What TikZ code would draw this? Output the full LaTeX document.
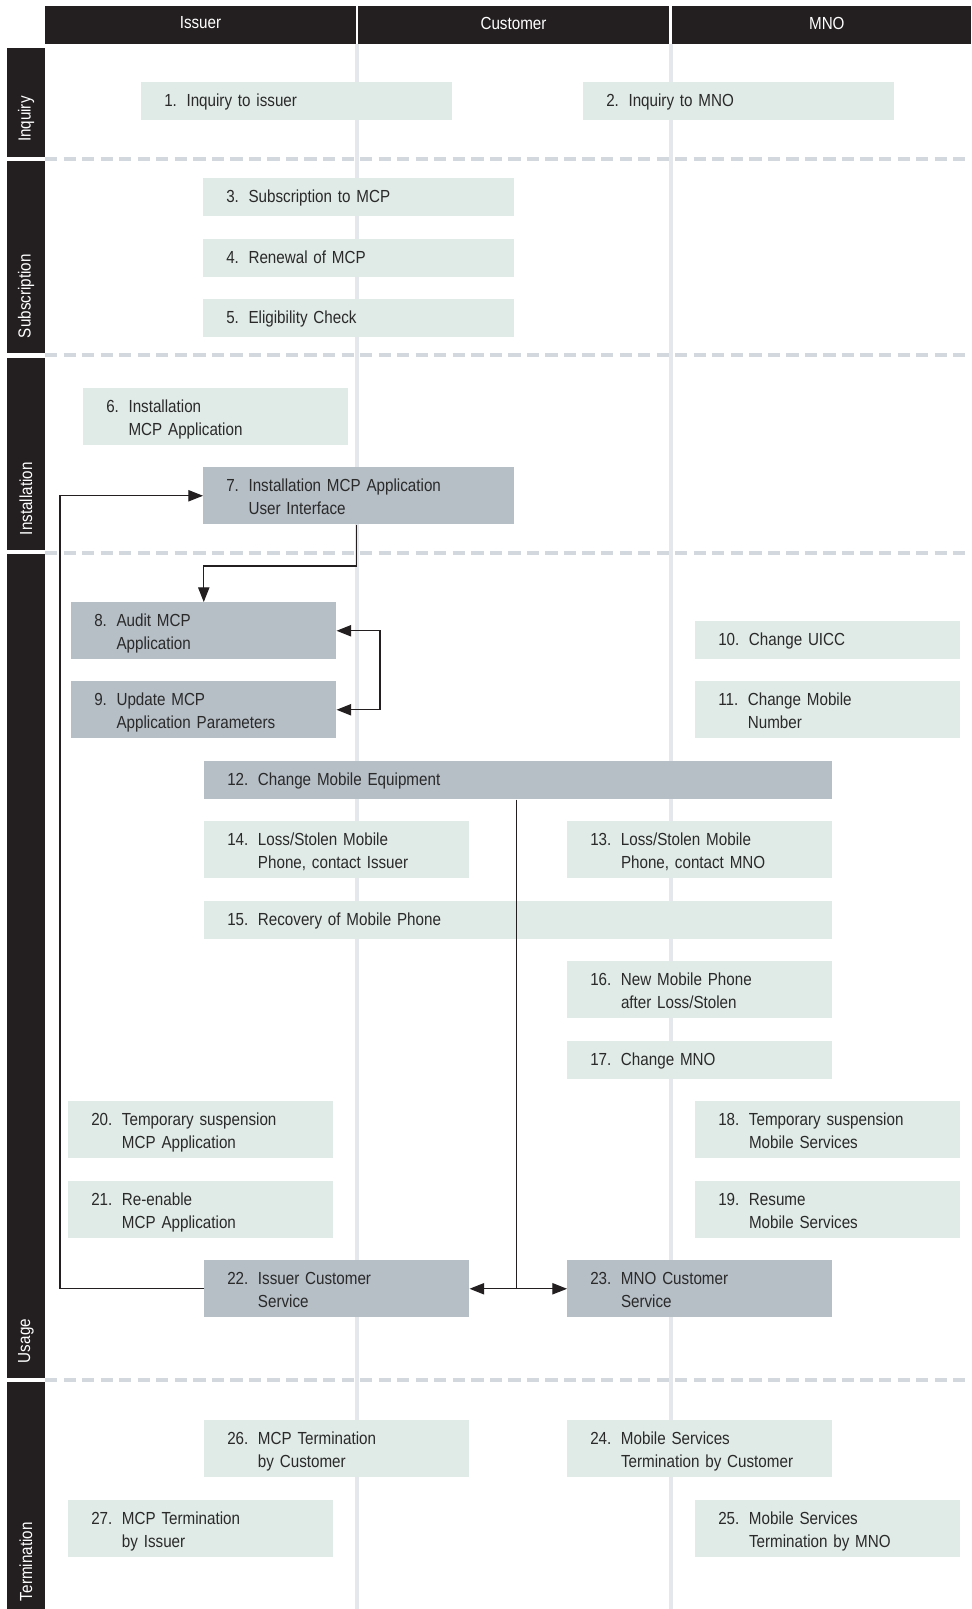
\documentclass[tikz,border=0pt]{standalone}
\usepackage{fontspec}
\setmainfont{Liberation Sans}[FakeStretch=0.87]
\usetikzlibrary{arrows.meta}
\definecolor{hdr}{HTML}{231F20}
\definecolor{lite}{HTML}{E0EAE6}
\definecolor{darkb}{HTML}{B6BEC6}
\definecolor{laneline}{HTML}{E4E7EB}
\definecolor{dashc}{HTML}{D3D8DE}
\definecolor{txt}{HTML}{2A2A2A}
\newcommand\oneln[2]{\raisebox{-0.4pt}[\height][\depth]{\begin{tabular}{@{}l@{\hspace{7.2pt}}l@{}}#1.&#2\end{tabular}}}
\newcommand\twoln[3]{\raisebox{-1.6pt}[\height][\depth]{\begin{tabular}{@{}l@{\hspace{7.2pt}}l@{}}#1.&#2\\&#3\end{tabular}}}
\newcommand\hdrtxt[1]{\raisebox{1.5pt}[\height][\depth]{#1}}
\tikzset{
  fnt/.style={font=\fontsize{13.1pt}{17.25pt}\selectfont},
  bx/.style={fnt, anchor=north west, rectangle, inner xsep=17.25pt, inner ysep=0pt, align=left, text=txt},
  lbox/.style={bx, fill=lite},
  dbox/.style={bx, fill=darkb},
  wS/.style={minimum width=198.75pt, text width=164.25pt},
  wM/.style={minimum width=233.25pt, text width=198.75pt},
  wL/.style={minimum width=471pt, text width=436.5pt},
  hA/.style={minimum height=28.5pt},
  hB/.style={minimum height=42.75pt},
  hdrcell/.style={fnt, fill=hdr, text=white, minimum height=28.5pt, inner sep=0pt},
  lanelab/.style={fnt, fill=hdr, text=white, rotate=90, minimum height=28.5pt, inner ysep=0pt, inner xsep=11.25pt, align=left},
  conn/.style={draw=hdr, line width=0.8pt},
  tip/.tip={Triangle[length=11pt,width=8.5pt]},
}
\begin{document}
\begin{tikzpicture}[x=0.75pt,y=-0.75pt]
\useasboundingbox (0,0) rectangle (971,1609);
\fill[white] (0,0) rectangle (971,1609);
% header
\node[hdrcell, minimum width=233.25pt] (hI) at (200.5,25) {\hdrtxt{Issuer}};
\node[hdrcell, minimum width=233.25pt] (hC) at (513.5,25) {\hdrtxt{Customer}};
\node[hdrcell, minimum width=224.25pt] (hM) at (821.5,25) {\hspace*{8pt}\hdrtxt{MNO}};
% phase separators
\foreach \yy in {159,355,553,1380}
  \draw[dashc, line width=3pt, dash pattern=on 9.2pt off 4.7pt] (45,\yy) -- (965,\yy);
% lane lines
\draw[laneline, line width=3pt] (357,44) -- (357,1609);
\draw[laneline, line width=3pt] (671,44) -- (671,1609);
% lane labels
\node[lanelab, minimum width=81.75pt, text width=59.25pt] (lInq) at (26,102.5) {Inquiry};
\node[lanelab, minimum width=144pt, text width=121.5pt] (lSub) at (26,257) {Subscription};
\node[lanelab, minimum width=144pt, text width=121.5pt] (lIns) at (26,454) {Installation};
\node[lanelab, minimum width=618pt, text width=595.5pt] (lUse) at (26,966) {Usage};
\node[lanelab, minimum width=170.25pt, inner xsep=6pt, text width=158.25pt] (lTer) at (26,1495.5) {Termination};
% boxes
\node[lbox, wM, hA] (b1) at (141,82) {\oneln{1}{Inquiry to issuer}};
\node[lbox, wM, hA] (b2) at (583,82) {\oneln{2}{Inquiry to MNO}};
\node[lbox, wM, hA] (b3) at (203,178) {\oneln{3}{Subscription to MCP}};
\node[lbox, wM, hA] (b4) at (203,239) {\oneln{4}{Renewal of MCP}};
\node[lbox, wM, hA] (b5) at (203,299) {\oneln{5}{Eligibility Check}};
\node[lbox, wS, hB] (b6) at (83,388) {\twoln{6}{Installation}{MCP Application}};
\node[dbox, wM, hB] (b7) at (203,467) {\twoln{7}{Installation MCP Application}{User Interface}};
\node[dbox, wS, hB] (b8) at (71,602) {\twoln{8}{Audit MCP}{Application}};
\node[dbox, wS, hB] (b9) at (71,681) {\twoln{9}{Update MCP}{Application Parameters}};
\node[lbox, wS, hA] (b10) at (695,621) {\oneln{10}{Change UICC}};
\node[lbox, wS, hB] (b11) at (695,681) {\twoln{11}{Change Mobile}{Number}};
\node[dbox, wL, hA] (b12) at (204,761) {\oneln{12}{Change Mobile Equipment}};
\node[lbox, wS, hB] (b14) at (204,821) {\twoln{14}{Loss/Stolen Mobile}{Phone, contact Issuer}};
\node[lbox, wS, hB] (b13) at (567,821) {\twoln{13}{Loss/Stolen Mobile}{Phone, contact MNO}};
\node[lbox, wL, hA] (b15) at (204,901) {\oneln{15}{Recovery of Mobile Phone}};
\node[lbox, wS, hB] (b16) at (567,961) {\twoln{16}{New Mobile Phone}{after Loss/Stolen}};
\node[lbox, wS, hA] (b17) at (567,1041) {\oneln{17}{Change MNO}};
\node[lbox, wS, hB] (b20) at (68,1101) {\twoln{20}{Temporary suspension}{MCP Application}};
\node[lbox, wS, hB] (b18) at (695,1101) {\twoln{18}{Temporary suspension}{Mobile Services}};
\node[lbox, wS, hB] (b21) at (68,1181) {\twoln{21}{Re-enable}{MCP Application}};
\node[lbox, wS, hB] (b19) at (695,1181) {\twoln{19}{Resume}{Mobile Services}};
\node[dbox, wS, hB] (b22) at (204,1260) {\twoln{22}{Issuer Customer}{Service}};
\node[dbox, wS, hB] (b23) at (567,1260) {\twoln{23}{MNO Customer}{Service}};
\node[lbox, wS, hB] (b26) at (204,1420) {\twoln{26}{MCP Termination}{by Customer}};
\node[lbox, wS, hB] (b24) at (567,1420) {\twoln{24}{Mobile Services}{Termination by Customer}};
\node[lbox, wS, hB] (b27) at (68,1500) {\twoln{27}{MCP Termination}{by Issuer}};
\node[lbox, wS, hB] (b25) at (695,1500) {\twoln{25}{Mobile Services}{Termination by MNO}};
% connectors
\coordinate (lx) at (60,900);
\coordinate (ky) at (0,566);
\coordinate (rx) at (380,0);
\coordinate (b7out) at ([xshift=-2pt]b7.south);
\coordinate (b12out) at ([xshift=-1.5pt]b12.south);
\draw[conn, -tip] (b22.west) -| (lx) |- (b7.west);
\draw[conn, -tip] (b7out) -- (b7out |- ky) -| (b8.north);
\draw[conn, tip-tip] (b8.east) -- (b8.east -| rx) |- (b9.east);
\draw[conn] (b12out) -- (b12out |- b22.east);
\draw[conn, tip-tip] (b22.east) -- (b23.west);
\end{tikzpicture}
\end{document}
